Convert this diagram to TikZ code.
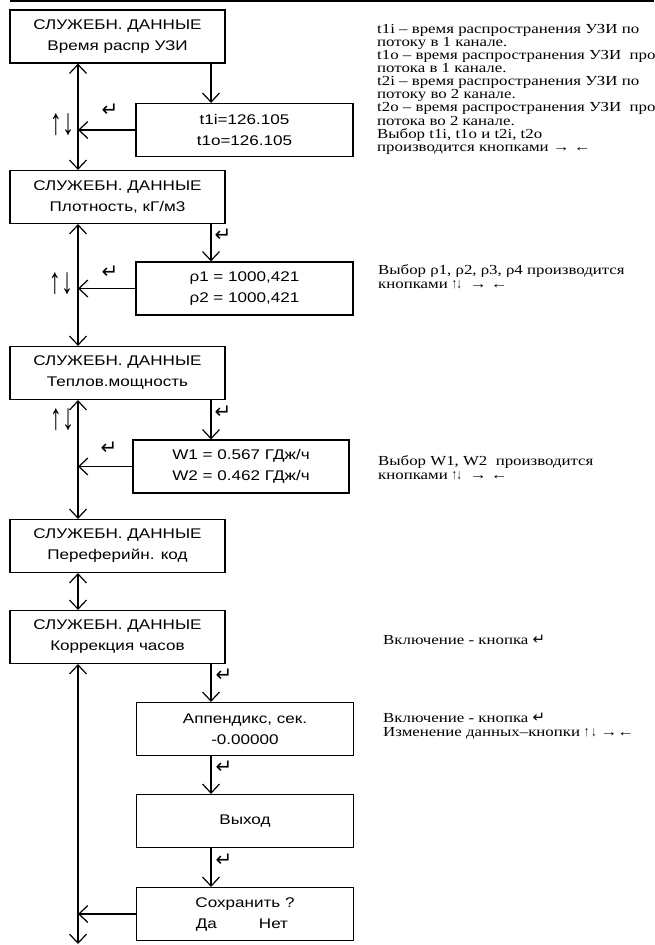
\documentclass[tikz,border=0pt]{standalone}
\usepackage{fontspec}
\setmainfont[FakeStretch=1.22]{Liberation Serif}
\newfontfamily\boxfont[FakeStretch=1.22]{Liberation Sans}
\newfontfamily\keyfont[FakeStretch=0.65]{Liberation Sans}
\newfontfamily\symfont{DejaVu Sans}
\usetikzlibrary{arrows.meta,calc}

\tikzset{
  screen/.style={draw, line width=1.2pt, minimum width=215pt, minimum height=53pt,
    align=center, inner sep=0pt, font=\boxfont\fontsize{14}{21}\selectfont},
  subscreen/.style={screen, minimum width=217pt},
  arr/.style={line width=1.2pt, -{Straight Barb[length=9pt,width=17pt]}},
  darr/.style={line width=1.2pt,
    {Straight Barb[length=9pt,width=17pt]}-{Straight Barb[length=9pt,width=17pt]}},
  enter/.style={font=\symfont\fontsize{20}{20}\selectfont, inner sep=0pt},
  updown/.style={font=\keyfont\fontsize{37}{37}\selectfont, inner sep=0pt},
  note/.style={anchor=north west, align=left, inner sep=0pt,
    font=\fontsize{13.8}{13.1}\selectfont},
  shortnote/.style={note, font=\fontsize{13.8}{14}\selectfont},
}
\newcommand{\retkey}{{\symfont\fontsize{15}{13}\selectfont ↵}}
\newcommand{\keyarrows}[1]{{\keyfont\fontsize{14.5}{13}\selectfont #1}}

\begin{document}
\begin{tikzpicture}[x=1pt,y=-1pt]
    \useasboundingbox (0,0) rectangle (654,945);
    \draw[line width=1.5pt] (10,1) -- (654,1);

    % main menu
    \node[screen] (m1) at (117.5,36.5) {СЛУЖЕБН. ДАННЫЕ\\Время распр УЗИ};
    \node[screen] (m2) at (117.5,197) {СЛУЖЕБН. ДАННЫЕ\\Плотность, кГ/м3};
    \node[screen] (m3) at (117.5,373) {СЛУЖЕБН. ДАННЫЕ\\Теплов.мощность};
    \node[screen] (m4) at (117.5,546) {СЛУЖЕБН. ДАННЫЕ\\Переферийн. код};
    \node[screen] (m5) at (117.5,637) {СЛУЖЕБН. ДАННЫЕ\\Коррекция часов};

    % sub screens
    \node[subscreen] (t) at (244.5,130) {t1i=126.105\\t1o=126.105};
    \node[subscreen] (rho) at (244.5,288.5) {ρ1 = 1000,421\\ρ2 = 1000,421};
    \node[subscreen, minimum width=216pt] (w) at (241,466.5) {W1 = 0.567 ГДж/ч\\W2 = 0.462 ГДж/ч};
    \node[subscreen] (app) at (245,729) {Аппендикс, сек.\\-0.00000};
    \node[subscreen] (exit) at (245,821) {Выход};
    \node[subscreen] (save) at (245,914) {Сохранить ?\\Да\hspace{42pt}Нет\makebox[6pt]{}};

    \coordinate (spine) at (78,0);
    \coordinate (drop) at (211,0);
    \coordinate (bottom) at (78,944);

    \draw[darr] (m1.south -| spine) -- (m2.north -| spine);
    \draw[darr] (m2.south -| spine) -- (m3.north -| spine);
    \draw[darr] (m3.south -| spine) -- (m4.north -| spine);
    \draw[darr] (m4.south -| spine) -- (m5.north -| spine);
    \draw[darr] (m5.south -| spine) -- (bottom);

    \draw[arr] (m1.south -| drop) -- (t.north -| drop);
    \draw[arr] (m2.south -| drop) -- (rho.north -| drop);
    \draw[arr] (m3.south -| drop) -- (w.north -| drop);
    \draw[arr] (m5.south -| drop) -- (app.north -| drop);
    \draw[arr] (app.south -| drop) -- (exit.north -| drop);
    \draw[arr] (exit.south -| drop) -- (save.north -| drop);

    \draw[arr] (t.west) -- (t.west -| spine);
    \draw[arr] (rho.west) -- (rho.west -| spine);
    \draw[arr] (w.west) -- (w.west -| spine);
    \draw[arr] (save.west) -- (save.west -| spine);

    % key labels
    \node[updown] (ud1) at (62,125) {↑↓};
    \node[updown] (ud2) at (61,284) {↑↓};
    \node[updown] (ud3) at (62,420) {↑↓};
    \node[enter] (e1) at (110,110) {↵};
    \node[enter] (e2) at (223,235) {↵};
    \node[enter] (e3) at (110,272) {↵};
    \node[enter] (e4) at (223,412) {↵};
    \node[enter] (e5) at (109,448) {↵};
    \node[enter] (e6) at (224,675) {↵};
    \node[enter] (e7) at (224,767) {↵};
    \node[enter] (e8) at (224,860) {↵};

    % notes
    \node[note] (n1) at (377,24) {t1i – время распространения УЗИ по\\
      потоку в 1 канале.\\
      t1o – время распространения УЗИ\ \ против\\
      потока в 1 канале.\\
      t2i – время распространения УЗИ по\\
      потоку во 2 канале.\\
      t2o – время распространения УЗИ\ \ против\\
      потока во 2 канале.\\
      Выбор t1i, t1o и t2i, t2o\\
      производится кнопками → ←};
    \node[shortnote] (n2) at (378,264) {Выбор ρ1, ρ2, ρ3, ρ4 производится\\кнопками \keyarrows{↑↓}\ \ → ←};
    \node[shortnote] (n3) at (378,455) {Выбор W1, W2\ \ производится\\кнопками \keyarrows{↑↓}\ \ → ←};
    \node[shortnote] (n4) at (383,635) {Включение - кнопка \retkey};
    \node[shortnote] (n5) at (383,713) {Включение - кнопка \retkey\\Изменение данных–кнопки \keyarrows{↑ ↓} →←};
\end{tikzpicture}
\end{document}
